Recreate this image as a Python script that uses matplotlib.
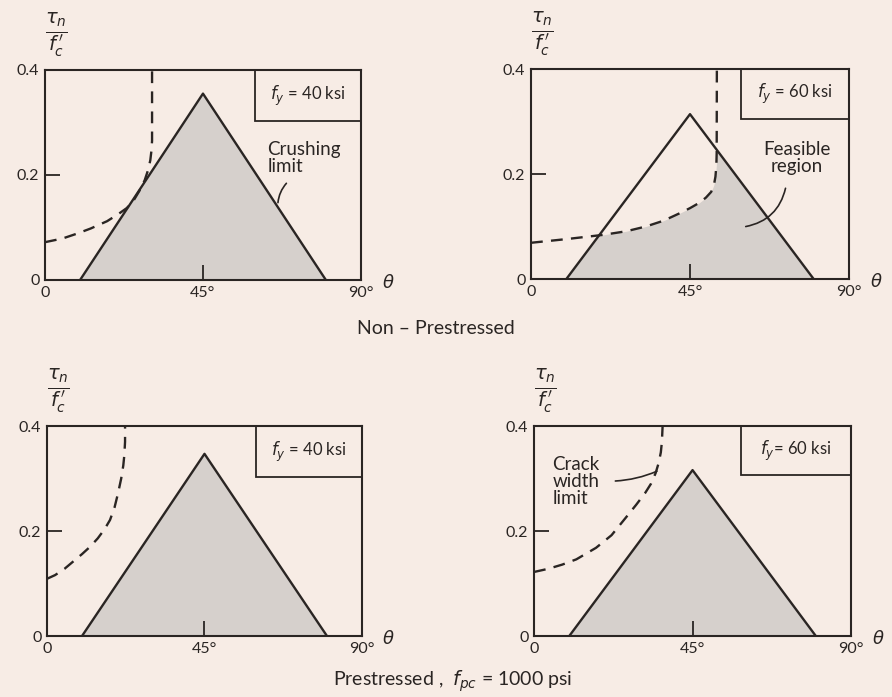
import numpy as np
import matplotlib.pyplot as plt
from matplotlib.patches import Rectangle

# crushing limit triangles (theta in degrees, tau_n / f'c)
tri_theta = [10, 45, 80]
peak_np40 = 0.355
peak_np60 = 0.314
peak_p40 = 0.347
peak_p60 = 0.316

# crack width limit curves (dashed)
crack_theta_np40 = [0, 5, 9, 13, 17.7, 21, 23.3, 25.3, 27, 28.4, 29.4, 30.0, 30.3, 30.5, 30.5]
crack_tau_np40 = [0.072, 0.079, 0.088, 0.098, 0.112, 0.126, 0.137, 0.152, 0.171, 0.19, 0.21,
                  0.228, 0.245, 0.265, 0.4]
crack_theta_np60 = [0, 10, 20.3, 27, 32.5, 37.5, 42, 45, 47.6, 49.5, 51, 51.8, 52.2, 52.45,
                    52.55, 52.6]
crack_tau_np60 = [0.069, 0.076, 0.084, 0.091, 0.1, 0.111, 0.125, 0.135, 0.145, 0.155, 0.166,
                  0.18, 0.195, 0.215, 0.24, 0.4]
crack_theta_p40 = [0, 2.3, 5, 7.5, 10, 12.3, 14.5, 16.5, 18, 19.3, 20.3, 21.2, 21.8, 22.1,
                   22.3, 22.3]
crack_tau_p40 = [0.109, 0.116, 0.128, 0.142, 0.156, 0.17, 0.186, 0.204, 0.221, 0.245, 0.272,
                 0.3, 0.325, 0.345, 0.37, 0.4]
crack_theta_p60 = [0, 4, 8, 12, 17.6, 22, 26, 29, 31.5, 33.2, 34.5, 35.4, 36, 36.3, 36.5]
crack_tau_p60 = [0.122, 0.128, 0.136, 0.146, 0.168, 0.192, 0.225, 0.25, 0.272, 0.29, 0.31,
                 0.33, 0.35, 0.37, 0.4]

box_labels = [r'$f_y$ = 40 ksi', r'$f_y$ = 60 ksi', r'$f_y$ = 40 ksi', r'$f_y$= 60 ksi']

bg = '#f7ece5'
ink = '#2a2523'
shade = '#d6d0cc'

plt.rcParams['font.family'] = ['Lato', 'DejaVu Sans']
plt.rcParams['mathtext.fontset'] = 'dejavusans'

fig = plt.figure(figsize=(8.92, 6.97), dpi=100, facecolor=bg)

rects = [
    [0.0504, 0.5983, 0.3543, 0.3013],
    [0.5953, 0.5997, 0.3565, 0.3013],
    [0.0527, 0.0875, 0.3531, 0.3013],
    [0.5987, 0.0875, 0.3554, 0.3013],
]
peaks = [peak_np40, peak_np60, peak_p40, peak_p60]
crack_th = [crack_theta_np40, crack_theta_np60, crack_theta_p40, crack_theta_p60]
crack_ta = [crack_tau_np40, crack_tau_np60, crack_tau_p40, crack_tau_p60]
box_left = [0.665, 0.66, 0.663, 0.653]
box_bottom = [0.757, 0.762, 0.757, 0.767]

axes = []
for i in range(4):
    ax = fig.add_axes(rects[i])
    ax.set_facecolor(bg)
    ax.set_xlim(0, 90)
    ax.set_ylim(0, 0.4)
    tri_tau = [0, peaks[i], 0]

    # feasible region: under the triangle and under the crack width limit
    th = np.linspace(tri_theta[0], tri_theta[2], 400)
    top = np.interp(th, tri_theta, tri_tau)
    cth = np.array(crack_th[i])
    cta = np.array(crack_ta[i])
    lim = np.where(th < cth[-1], np.interp(th, cth[:-1], cta[:-1]), 1.0)
    if i == 1:
        top = np.minimum(top, lim)
    ax.fill_between(th, 0, top, color=shade, lw=0, zorder=1)

    ax.plot(tri_theta, tri_tau, color=ink, lw=1.7, zorder=3)
    ax.plot(crack_th[i], crack_ta[i], color=ink, lw=1.7, ls=(0, (5, 3.5)), zorder=3)

    for s in ax.spines.values():
        s.set_linewidth(1.5)
        s.set_color(ink)

    ax.set_xticks([0, 45, 90])
    ax.set_xticklabels(['0', '45°', '90°'])
    ax.set_yticks([0, 0.2, 0.4])
    ax.set_yticklabels(['0', '0.2', '0.4'])
    ax.tick_params(direction='in', length=11, width=1.3, color=ink,
                   labelcolor=ink, labelsize=11.5, pad=4)

    ax.text(1.085, -0.01, r'$\theta$', transform=ax.transAxes, fontsize=13,
            color=ink, ha='center', va='center')
    ax.text(0.035, 1.165, r'$\frac{\tau_n}{f_c^{\,\prime}}$', transform=ax.transAxes,
            fontsize=20, color=ink, ha='center', va='center')

    ax.add_patch(Rectangle((box_left[i], box_bottom[i]), 1 - box_left[i], 1 - box_bottom[i],
                           transform=ax.transAxes, fill=False, ec=ink, lw=1.3, zorder=4))
    ax.text((1 + box_left[i]) / 2, (1 + box_bottom[i]) / 2, box_labels[i],
            transform=ax.transAxes, fontsize=12, color=ink, ha='center', va='center')
    axes.append(ax)

# annotations
axes[0].text(63.3, 0.232, 'Crushing\nlimit', fontsize=13.5, color=ink, ha='left', va='center',
             linespacing=1.0)
axes[0].annotate('', xy=(66.3, 0.142), xytext=(69.3, 0.188),
                 arrowprops=dict(arrowstyle='-', color=ink, lw=1.2,
                                 connectionstyle='arc3,rad=0.2'))
axes[1].text(75.3, 0.23, 'Feasible\nregion', fontsize=13.5, color=ink, ha='center', va='center',
             linespacing=1.0)
axes[1].annotate('', xy=(60, 0.099), xytext=(72.2, 0.178),
                 arrowprops=dict(arrowstyle='-', color=ink, lw=1.2,
                                 connectionstyle='arc3,rad=-0.35'))
axes[3].text(5.2, 0.295, 'Crack\nwidth\nlimit', fontsize=13.5, color=ink, ha='left', va='center',
             linespacing=1.0)
axes[3].annotate('', xy=(35.6, 0.316), xytext=(22.3, 0.295),
                 arrowprops=dict(arrowstyle='-', color=ink, lw=1.2,
                                 connectionstyle='arc3,rad=0.1'))

fig.text(435.5 / 892, 1 - 328 / 697, 'Non – Prestressed', fontsize=14, color=ink,
         ha='center', va='center')
fig.text(453 / 892, 1 - 681 / 697, r'Prestressed ,  $f_{pc}$ = 1000 psi', fontsize=14,
         color=ink, ha='center', va='center')

fig.savefig('out.png', dpi=100, facecolor=bg)
